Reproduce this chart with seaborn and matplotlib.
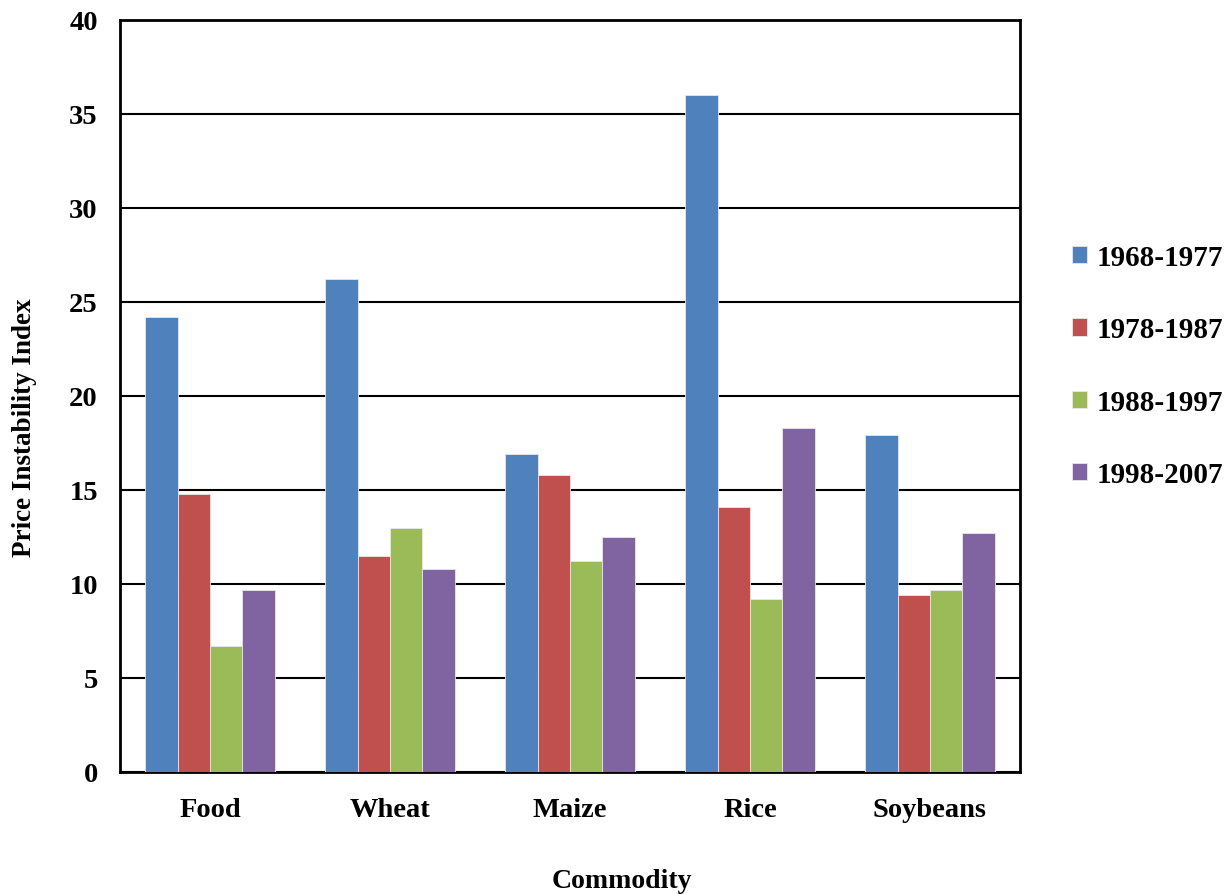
import matplotlib
matplotlib.use('Agg')
import matplotlib.pyplot as plt
import seaborn as sns
import pandas as pd

# values
commodities = ['Food', 'Wheat', 'Maize', 'Rice', 'Soybeans']
periods = ['1968-1977', '1978-1987', '1988-1997', '1998-2007']
p_1968_1977 = [24.2, 26.2, 16.9, 36.0, 17.9]
p_1978_1987 = [14.8, 11.5, 15.8, 14.1, 9.4]
p_1988_1997 = [6.7, 13.0, 11.2, 9.2, 9.7]
p_1998_2007 = [9.7, 10.8, 12.5, 18.3, 12.7]
y_ticks = [0, 5, 10, 15, 20, 25, 30, 35, 40]

colors = ['#4F81BD', '#C0504D', '#9BBB59', '#8064A2']

series = [p_1968_1977, p_1978_1987, p_1988_1997, p_1998_2007]
rows = []
for period, vals in zip(periods, series):
    for c, v in zip(commodities, vals):
        rows.append({'Commodity': c, 'Period': period, 'Value': v})
df = pd.DataFrame(rows)

sns.set_style('white')
plt.rcParams['font.family'] = ['Liberation Serif', 'DejaVu Serif']
plt.rcParams['font.weight'] = 'bold'
plt.rcParams['text.color'] = 'black'
plt.rcParams['axes.labelcolor'] = 'black'
plt.rcParams['xtick.color'] = 'black'
plt.rcParams['ytick.color'] = 'black'

fig = plt.figure(figsize=(12.3, 8.95), dpi=100)
ax = fig.add_axes([120 / 1230, 1 - 773 / 895, 900 / 1230, 752 / 895])

sns.barplot(data=df, x='Commodity', y='Value', hue='Period', order=commodities,
            hue_order=periods, palette=colors, saturation=1, width=0.72, gap=0,
            edgecolor='#e8e8e8', linewidth=0.6, ax=ax, zorder=3)

ax.set_ylim(0, 40)
ax.set_yticks(y_ticks)
ax.yaxis.grid(True, color='black', linewidth=1.5, zorder=0)
ax.set_axisbelow(True)
for s in ax.spines.values():
    s.set_color('black')
    s.set_linewidth(2)
    s.set_visible(True)

ax.tick_params(axis='both', length=0, labelsize=20.5)
ax.tick_params(axis='y', pad=16)
ax.tick_params(axis='x', pad=18)
for lbl in ax.get_xticklabels() + ax.get_yticklabels():
    lbl.set_fontweight('bold')

ax.set_xlabel('Commodity', fontsize=20, fontweight='bold')
ax.xaxis.set_label_coords(0.558, -0.128)
ax.set_ylabel('Price Instability Index', fontsize=19.5, fontweight='bold')
ax.yaxis.set_label_coords(-0.092, 0.459)

handles, labels = ax.get_legend_handles_labels()
ax.legend_.remove()
fig.legend(handles, labels, loc='center left', bbox_to_anchor=(1072 / 1230, 1 - 367 / 895),
           frameon=False, handlelength=0.53, handleheight=0.53,
           handletextpad=0.3, labelspacing=1.55, borderpad=0, borderaxespad=0,
           prop={'weight': 'bold', 'size': 21})

fig.savefig('out.png', dpi=100)
